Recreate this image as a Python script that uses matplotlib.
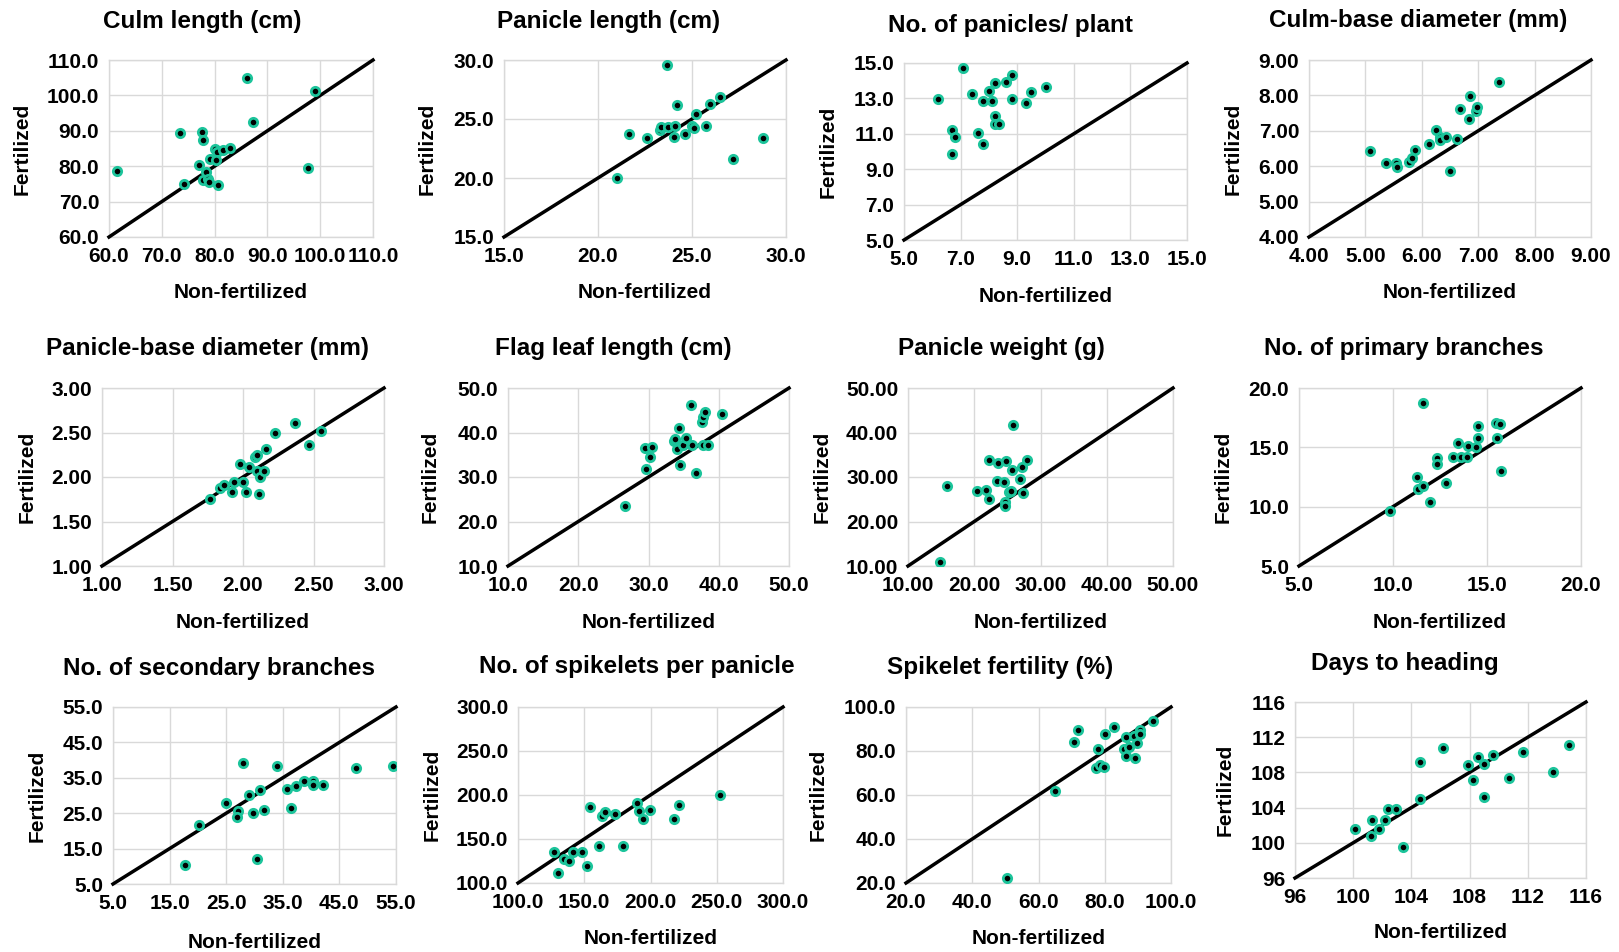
import matplotlib
matplotlib.use("Agg")
import matplotlib.pyplot as plt
import numpy as np

plt.rcParams['font.family'] = ['Liberation Sans', 'DejaVu Sans']
plt.rcParams['font.weight'] = 'bold'

# ---- data ----
titles = ['Culm length (cm)', 'Panicle length (cm)', 'No. of panicles/ plant', 'Culm-base diameter (mm)',
          'Panicle-base diameter (mm)', 'Flag leaf length (cm)', 'Panicle weight (g)', 'No. of primary branches',
          'No. of secondary branches', 'No. of spikelets per panicle', 'Spikelet fertility (%)', 'Days to heading']

culm_nf = [61.5, 74.2, 73.4, 77.6, 77.8, 77.1, 78.3, 77.8, 78.7, 78.9, 79.2, 80.1, 80.4, 80.2, 80.6, 81.6, 83.0, 86.1, 87.3, 97.6, 99.0]
culm_f = [78.6, 75.0, 89.4, 89.7, 87.4, 80.3, 78.3, 76.2, 76.4, 75.4, 82.1, 84.9, 84.1, 81.8, 74.7, 84.6, 85.2, 104.9, 92.5, 79.5, 101.3]

panlen_nf = [21.0, 21.66, 22.62, 23.30, 23.33, 23.71, 23.69, 24.05, 24.12, 24.19, 24.63, 25.0, 25.1, 25.2, 25.75, 25.96, 26.5, 27.2, 28.75]
panlen_f = [20.04, 23.77, 23.38, 24.06, 24.34, 24.28, 29.55, 23.49, 24.40, 26.18, 23.77, 24.40, 24.2, 25.41, 24.40, 26.26, 26.83, 21.57, 23.43]

panno_nf = [6.2, 6.70, 6.79, 6.70, 7.10, 7.41, 7.62, 7.79, 7.79, 7.99, 8.12, 8.22, 8.22, 8.22, 8.34, 8.61, 8.81, 8.81, 9.32, 9.47, 10.0]
panno_f = [12.98, 11.23, 10.81, 9.87, 14.72, 13.25, 11.04, 12.87, 10.43, 13.43, 12.87, 13.89, 11.98, 11.55, 11.55, 13.92, 14.34, 12.98, 12.74, 13.38, 13.66]

culmdia_nf = [5.08, 5.36, 5.54, 5.56, 5.78, 5.82, 5.88, 6.12, 6.26, 6.33, 6.33, 6.43, 6.50, 6.62, 6.68, 6.83, 6.86, 6.96, 6.97, 7.36]
culmdia_f = [6.42, 6.10, 6.08, 5.99, 6.13, 6.23, 6.45, 6.62, 7.02, 6.83, 6.74, 6.82, 5.86, 6.78, 7.61, 7.33, 7.97, 7.57, 7.68, 8.38]

pandia_nf = [1.768, 1.84, 1.866, 1.92, 1.934, 1.976, 2.0, 2.02, 2.04, 2.085, 2.097, 2.10, 2.11, 2.12, 2.15, 2.163, 2.23, 2.37, 2.47, 2.55]
pandia_f = [1.752, 1.88, 1.906, 1.827, 1.94, 2.147, 1.94, 1.83, 2.11, 2.23, 2.25, 2.07, 1.81, 2.0, 2.07, 2.31, 2.50, 2.61, 2.36, 2.52]

flag_nf = [26.7, 29.5, 29.6, 30.2, 30.5, 33.7, 33.8, 34.1, 34.4, 34.5, 34.9, 35.3, 36.0, 36.2, 36.7, 37.6, 37.8, 38.0, 37.8, 38.5, 40.4]
flag_f = [23.5, 36.5, 31.8, 34.4, 36.8, 38.1, 38.6, 36.3, 41.1, 32.7, 37.2, 38.7, 46.1, 37.2, 30.9, 42.4, 43.5, 44.7, 37.2, 37.1, 44.1]

panwt_nf = [14.8, 15.9, 20.4, 21.7, 22.2, 22.2, 23.4, 23.6, 24.5, 24.7, 24.7, 24.8, 25.3, 25.6, 25.7, 25.9, 26.9, 27.2, 27.3, 28.0]
panwt_f = [10.8, 28.0, 26.9, 27.1, 25.0, 33.9, 29.1, 33.2, 28.9, 24.4, 23.5, 33.7, 26.7, 26.9, 31.6, 41.7, 29.5, 32.3, 26.5, 33.8]

prim_nf = [9.84, 11.29, 11.31, 11.58, 11.58, 11.97, 12.32, 12.32, 12.82, 13.21, 13.48, 13.60, 13.92, 14.0, 14.40, 14.50, 14.50, 15.46, 15.51, 15.69, 15.73]
prim_f = [9.62, 12.53, 11.46, 11.77, 18.76, 10.39, 14.14, 13.60, 12.02, 14.22, 15.40, 14.22, 14.22, 15.14, 15.07, 15.80, 16.76, 17.01, 15.80, 16.93, 13.01]

sec_nf = [17.8, 20.2, 25.0, 27.1, 26.9, 28.0, 29.1, 29.7, 30.5, 31.0, 31.7, 33.9, 35.8, 36.4, 37.4, 38.8, 40.3, 40.4, 42.1, 47.9, 54.5]
sec_f = [10.46, 21.7, 27.9, 25.5, 23.9, 39.2, 30.2, 25.1, 12.1, 31.6, 26.0, 38.2, 31.8, 26.4, 32.6, 34.0, 34.0, 33.0, 33.0, 37.8, 38.3]

spk_nf = [127.4, 130.1, 134.9, 138.6, 141.2, 148.2, 152.2, 154.2, 161.2, 163.2, 165.4, 173.2, 179.0, 189.6, 191.6, 194.4, 199.6, 217.7, 221.5, 252.8]
spk_f = [135.1, 110.9, 127.2, 124.9, 135.1, 134.7, 118.9, 186.8, 142.6, 176.6, 181.1, 178.9, 141.5, 191.3, 182.3, 173.2, 183.0, 173.2, 189.1, 200.4]

fert_nf = [50.4, 65.1, 70.8, 71.8, 77.3, 78.1, 78.6, 79.7, 80.2, 82.8, 85.9, 86.3, 86.3, 87.2, 88.7, 89.1, 89.7, 90.5, 90.7, 94.6]
fert_f = [22.1, 62.0, 84.3, 89.4, 72.5, 80.8, 73.7, 72.8, 87.9, 90.8, 81.0, 86.4, 77.8, 82.0, 86.9, 76.6, 83.7, 89.7, 87.9, 93.7]

dth_nf = [100.15, 101.2, 101.3, 101.8, 102.2, 102.4, 102.95, 103.4, 104.6, 104.6, 106.2, 107.9, 108.2, 108.6, 109.0, 109.0, 109.6, 110.7, 111.7, 113.75, 114.8]
dth_f = [101.6, 100.8, 102.6, 101.6, 102.6, 103.8, 103.8, 99.5, 109.2, 105.0, 110.8, 108.8, 107.1, 109.7, 109.0, 105.2, 110.0, 107.4, 110.3, 108.0, 111.1]

x_data = [culm_nf, panlen_nf, panno_nf, culmdia_nf, pandia_nf, flag_nf, panwt_nf, prim_nf, sec_nf, spk_nf, fert_nf, dth_nf]
y_data = [culm_f, panlen_f, panno_f, culmdia_f, pandia_f, flag_f, panwt_f, prim_f, sec_f, spk_f, fert_f, dth_f]

# axis range (min, max, step) and decimals
ranges = [(60, 110, 10), (15, 30, 5), (5, 15, 2), (4, 9, 1), (1, 3, 0.5), (10, 50, 10),
          (10, 50, 10), (5, 20, 5), (5, 55, 10), (100, 300, 50), (20, 100, 20), (96, 116, 4)]
decimals = [1, 1, 1, 2, 2, 1, 2, 1, 1, 1, 1, 0]

# ---- layout in pixels (left, right, top, bottom) ----
W, H = 1619, 952
boxes = [(109, 373, 60, 237), (504, 786, 60, 237), (904, 1187, 63, 240), (1309, 1591, 60, 237),
         (102, 384, 388, 566), (508, 789, 388, 566), (908, 1173, 388, 566), (1299, 1581, 388, 566),
         (113, 396, 707, 884), (518, 783, 707, 883), (906, 1171, 707, 883), (1295, 1586, 702, 878)]
title_pos = [(202, 28), (609, 28), (1010, 32), (1418, 27), (207, 355), (613, 355), (1001, 355), (1404, 355),
             (219, 675), (637, 673), (1000, 674), (1405, 670)]
ylab_x = [22, 427, 828, 1233, 27, 430, 822, 1223, 37, 432, 818, 1225]
xlab_y = [293, 293, 297, 293, 622, 622, 622, 622, 942, 938, 938, 933]

green = '#1cc49b'
grid_c = '#d9d9d9'

fig = plt.figure(figsize=(W / 100, H / 100), dpi=100)

for i in range(12):
    l, r, t, b = boxes[i]
    ax = fig.add_axes([l / W, 1 - b / H, (r - l) / W, (b - t) / H])
    lo, hi, st = ranges[i]
    ticks = np.arange(lo, hi + st / 2, st)
    ax.set_xlim(lo, hi)
    ax.set_ylim(lo, hi)
    ax.set_xticks(ticks)
    ax.set_yticks(ticks)
    fmt = '{:.%df}' % decimals[i]
    ax.set_xticklabels([fmt.format(v) for v in ticks])
    ax.set_yticklabels([fmt.format(v) for v in ticks])
    ax.tick_params(length=0, labelsize=15, pad=7)
    for lab in ax.get_xticklabels() + ax.get_yticklabels():
        lab.set_fontweight('bold')
    ax.grid(True, color=grid_c, linewidth=1)
    ax.set_axisbelow(True)
    for s in ax.spines.values():
        s.set_color(grid_c)
        s.set_linewidth(1)

    ax.plot([lo, hi], [lo, hi], color='black', linewidth=2.5, clip_on=False, zorder=3)
    ax.plot(x_data[i], y_data[i], linestyle='none', marker='o', markersize=6.0,
            markerfacecolor='black', markeredgecolor=green, markeredgewidth=2.0, zorder=4)

    tx, ty = title_pos[i]
    fig.text(tx / W, 1 - ty / H, titles[i], ha='center', va='baseline', fontsize=17.5, fontweight='bold')
    fig.text(ylab_x[i] / W, 1 - ((t + b) / 2) / H, 'Fertilized', rotation=90, ha='center', va='center',
             fontsize=15, fontweight='bold')
    fig.text(((l + r) / 2) / W, 1 - xlab_y[i] / H, 'Non-fertilized', ha='center', va='center',
             fontsize=15, fontweight='bold')

fig.savefig('out.png', dpi=100)
